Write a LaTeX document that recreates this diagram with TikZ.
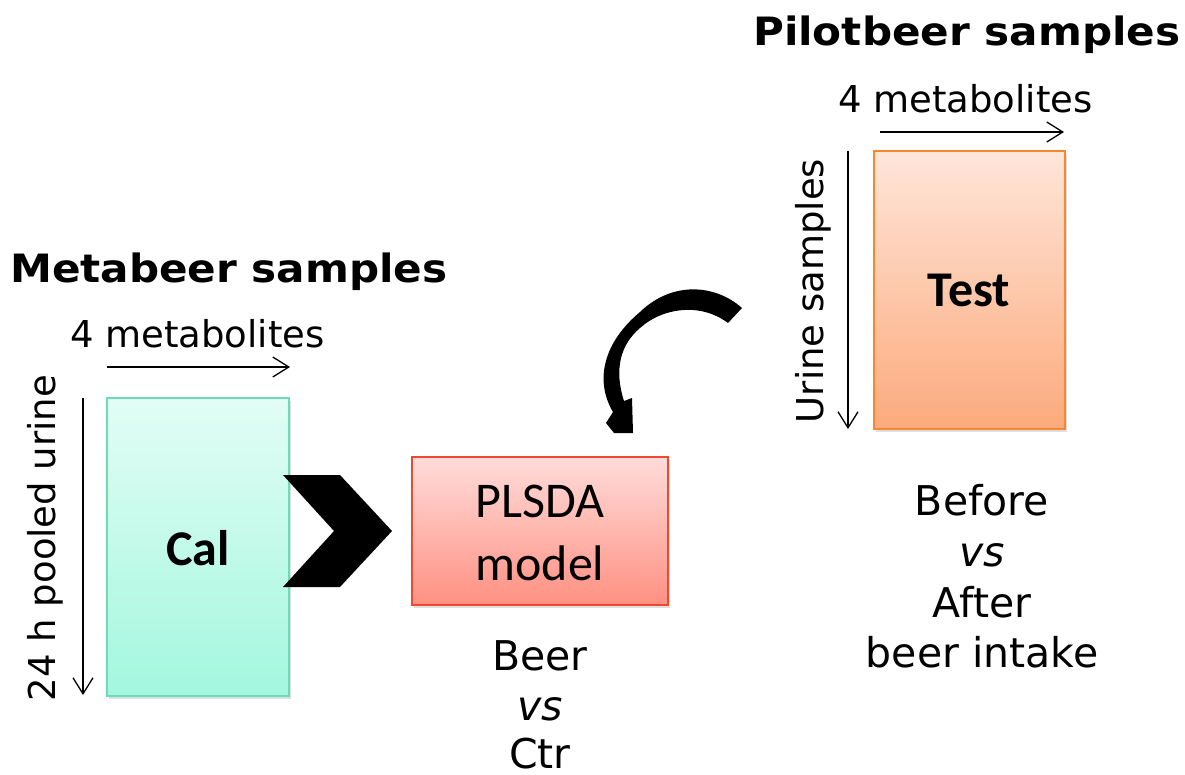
\documentclass[tikz,border=0pt]{standalone}
\usepackage{fontspec}
\setmainfont{DejaVu Sans}
\newfontfamily\calib{Carlito}
\newfontfamily\titlefont[FakeStretch=1.08]{DejaVu Sans Bold}
\usetikzlibrary{arrows.meta,shadows}
\definecolor{calTop}{HTML}{E2FDF5}
\definecolor{calBot}{HTML}{A3F7DE}
\definecolor{calLine}{HTML}{6ADCB8}
\definecolor{plsTop}{HTML}{FFDCDA}
\definecolor{plsBot}{HTML}{FF9082}
\definecolor{plsLine}{HTML}{EE4A32}
\definecolor{tstTop}{HTML}{FEE6DA}
\definecolor{tstBot}{HTML}{FCAA7C}
\definecolor{tstLine}{HTML}{F7882F}
\tikzset{
  title/.style={anchor=base west,inner sep=0pt,font=\titlefont\fontsize{39}{44}\selectfont},
  label/.style={inner sep=0pt,font=\fontsize{37}{44}\selectfont},
  bigtxt/.style={anchor=base,inner sep=0pt,font=\fontsize{41}{48}\selectfont},
  datbox/.style={rectangle,draw,line width=1.5pt,inner sep=0pt,
    drop shadow={shadow xshift=2pt,shadow yshift=-3pt,opacity=0.25}},
  thinarrow/.style={line width=1.3pt,-{Straight Barb[length=16pt,width=20pt,line width=1.3pt]}},
  boxtxt/.style={anchor=base,inner sep=0pt,font=\calib\fontsize{50}{60}\selectfont},
}
\begin{document}
\begin{tikzpicture}[x=1pt,y=-1pt]
\useasboundingbox (0,0) rectangle (1185,775);
% titles
\node[title] (t1) at (10,283) {Metabeer samples};
\node[title] (t2) at (753,46) {Pilotbeer samples};
% metabolite labels
\node[label,anchor=base west] (m1) at (70,348) {4 metabolites};
\node[label,anchor=base west] (m2) at (838,113) {4 metabolites};
% boxes
\node[datbox,draw=calLine,top color=calTop,bottom color=calBot,minimum width=182pt,minimum height=298pt] (cal) at (198,547) {};
\node[datbox,draw=plsLine,top color=plsTop,bottom color=plsBot,minimum width=256pt,minimum height=148pt] (pls) at (540,531) {};
\node[datbox,draw=tstLine,top color=tstTop,bottom color=tstBot,minimum width=191pt,minimum height=278pt] (tst) at (969.5,290) {};
% box texts
\node[boxtxt,font=\calib\fontsize{50}{60}\selectfont\bfseries] (calt) at (198,565) {Cal};
\node[boxtxt,font=\calib\fontsize{50}{60}\selectfont\bfseries] (tstt) at (969,307) {Test};
\node[boxtxt] (pl1) at (540,517) {PLSDA};
\node[boxtxt] (pl2) at (540,580) {model};
% axis arrows
\coordinate (a1s) at (107,367); \coordinate (a1e) at (290,367);
\draw[thinarrow] (a1s) -- (a1e);
\coordinate (a2s) at (880,132); \coordinate (a2e) at (1064,132);
\draw[thinarrow] (a2s) -- (a2e);
\coordinate (v1s) at (83,398); \coordinate (v1e) at (83,695);
\draw[thinarrow] (v1s) -- (v1e);
\coordinate (v2s) at (848,151); \coordinate (v2e) at (848,429);
\draw[thinarrow] (v2s) -- (v2e);
% rotated labels
\node[label,anchor=base,rotate=90] (r1) at (55,538) {24 h pooled urine};
\node[label,anchor=base,rotate=90] (r2) at (823,291) {Urine samples};
% chevron
\fill[black] (283,475) -- (340,475) -- (392,531) -- (340,587) -- (283,587) -- (334,531) -- cycle;
% curved arrow
\fill[black] (742,308) .. controls (715,284) and (672,281) .. (640,312)
  .. controls (604,342) and (594,380) .. (613,412)
  -- (606,423) -- (614,433) -- (633,433) -- (632,398) -- (624,401)
  .. controls (614,370) and (620,345) .. (640,328)
  .. controls (662,308) and (700,302) .. (728,323) -- cycle;
% lower texts
\node[bigtxt] (b1) at (540,670) {Beer};
\node[bigtxt,font=\fontsize{41}{48}\selectfont\itshape] (b2) at (540,720) {vs};
\node[bigtxt] (b3) at (540,768) {Ctr};
\node[bigtxt] (c1) at (982,515) {Before};
\node[bigtxt,font=\fontsize{41}{48}\selectfont\itshape] (c2) at (982,566) {vs};
\node[bigtxt] (c3) at (982,617) {After};
\node[bigtxt] (c4) at (982,667) {beer intake};
\end{tikzpicture}
\end{document}
